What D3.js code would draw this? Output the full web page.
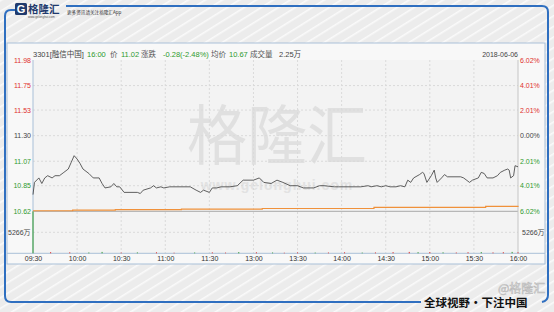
<!DOCTYPE html>
<html>
<head>
<meta charset="utf-8">
<script src="https://cdn.jsdelivr.net/npm/d3@7"></script>
<style>
  body { margin: 0; background: #fff; }
  svg text { font-family: "Liberation Sans", "Noto Sans CJK SC", sans-serif; }
</style>
</head>
<body>
<div id="wrapper"></div>
<script>
// 1) Data
const prevClose = 11.30
const priceTicks = [11.98, 11.75, 11.53, 11.30, 11.07, 10.85, 10.62]
const pctTicks = ["6.02%", "4.01%", "2.01%", "0.00%", "2.01%", "4.01%", "6.02%"]
const timeLabels = ["09:30", "10:00", "10:30", "11:00", "11:30", "13:00",
  "13:30", "14:00", "14:30", "15:00", "15:30", "16:00"]
const volTickLabel = "5266万"

// minutes since open (lunch break removed), price
const priceMinutes = [0, 1, 4, 6, 8, 10, 13, 15, 18, 21, 24, 26, 28, 30, 32, 34, 38, 41, 45, 47,
  49, 53, 55, 57, 59, 62, 66, 71, 73, 75, 80, 82, 84, 87, 89, 93, 107, 111, 114, 116,
  120, 122, 125, 128, 134, 139, 143, 150, 154, 157, 162, 166, 170, 175, 180, 184, 191, 195, 198, 205,
  208, 223, 228, 230, 234, 237, 240, 243, 247, 250, 253, 255, 257, 259, 263, 265, 266, 268, 271, 273,
  274, 275, 278, 280, 282, 291, 293, 297, 299, 303, 305, 307, 309, 313, 316, 318, 321, 323, 324, 325,
  327, 328, 330]
const priceValues = [10.77, 10.88, 10.92, 10.87, 10.92, 10.94, 10.92, 10.94, 10.94, 10.97, 11.00, 11.06, 11.12, 11.09, 11.05, 11.00, 10.96, 10.92, 10.92, 10.87,
  10.83, 10.84, 10.87, 10.84, 10.84, 10.79, 10.79, 10.79, 10.78, 10.81, 10.83, 10.85, 10.83, 10.84, 10.83, 10.84, 10.84, 10.81, 10.79, 10.81,
  10.79, 10.83, 10.83, 10.84, 10.84, 10.85, 10.90, 10.90, 10.92, 10.88, 10.87, 10.90, 10.88, 10.85, 10.85, 10.83, 10.83, 10.85, 10.85, 10.84,
  10.84, 10.84, 10.85, 10.84, 10.85, 10.84, 10.85, 10.84, 10.84, 10.85, 10.84, 10.90, 10.88, 10.92, 10.95, 10.97, 10.96, 10.88, 10.94, 10.99,
  10.92, 10.88, 10.92, 10.95, 10.93, 10.93, 10.92, 10.88, 10.90, 10.92, 10.97, 10.96, 10.92, 10.92, 10.94, 10.97, 10.99, 11.00, 10.99, 10.92,
  10.94, 11.03, 11.02]

// average price line (steps)
const avgMinutes = [0, 27, 56, 101, 156, 232, 308, 330]
const avgValues = [10.625, 10.63, 10.635, 10.64, 10.645, 10.655, 10.665, 10.67]

// volume, in 万
const volMinutes = [0, 12, 25, 38, 47, 60, 71, 84, 96, 110, 122, 131, 140, 152, 163, 171, 180, 192,
  201, 212, 224, 233, 245, 256, 262, 270, 279, 288, 296, 305, 313, 320, 326, 330]
const volValues = [10532, 300, 250, 200, 350, 180, 220, 260, 150, 200, 240, 180, 300, 260, 200, 150, 220, 180,
  200, 260, 180, 220, 300, 350, 280, 320, 240, 200, 260, 300, 220, 280, 350, 260]
const volUp = [false, true, true, false, false, true, false, true, true, false, true, true, false, true, false, true, true, false,
  true, true, false, true, true, true, false, true, false, true, true, false, true, true, false, true]

const header = [
  { text: "3301[融信中国]", color: "#444", x: 33 },
  { text: "16:00", color: "#2f9a2f", x: 87 },
  { text: "价", color: "#555", x: 110 },
  { text: "11.02", color: "#2f9a2f", x: 121 },
  { text: "涨跌", color: "#555", x: 141 },
  { text: "-0.28(-2.48%)", color: "#2f9a2f", x: 163 },
  { text: "均价", color: "#555", x: 211 },
  { text: "10.67", color: "#2f9a2f", x: 229 },
  { text: "成交量", color: "#555", x: 250 },
  { text: "2.25万", color: "#444", x: 279 },
]
const dateLabel = "2018-06-06"

// 2) Dimensions
const dimensions = {
  width: 554,
  height: 312,
  plot: { left: 33, right: 518, top: 60, priceBottom: 211.3, bottom: 253.3 },
}
const p = dimensions.plot
const red = "#e0302d"
const green = "#2f9a2f"

// 3) Canvas
const svg = d3.select("#wrapper").append("svg")
  .attr("width", dimensions.width)
  .attr("height", dimensions.height)

const defs = svg.append("defs")
const pattern = defs.append("pattern")
  .attr("id", "stripes")
  .attr("patternUnits", "userSpaceOnUse")
  .attr("width", 9).attr("height", 9)
  .attr("patternTransform", "rotate(-32)")
pattern.append("rect").attr("width", 9).attr("height", 9).attr("fill", "#ececec")
pattern.append("rect").attr("width", 9).attr("height", 1.6).attr("fill", "#fafafa")

svg.append("rect").attr("width", dimensions.width).attr("height", dimensions.height)
  .attr("fill", "url(#stripes)")

// outer blue frame
const frame = svg.append("g").attr("fill", "none").attr("stroke", "#2f6fc0").attr("stroke-width", 2)
frame.append("path").attr("d", "M5,296 L5,16 Q5,10 11,10 L15,10")
frame.append("path").attr("d", "M66,6 L542,6 Q548,6 548,12 L548,295 Q548,301 542,302")
frame.append("path").attr("d", "M5,296 Q5,302 11,302 L421,302")

// logo
svg.append("rect").attr("x", 15).attr("y", 3).attr("width", 12).attr("height", 12)
  .attr("rx", 1.5).attr("fill", "#1f3a6e")
svg.append("text").attr("x", 21).attr("y", 13).attr("text-anchor", "middle")
  .attr("font-size", 11).attr("font-weight", "bold").attr("fill", "#fff").text("G")
svg.append("text").attr("x", 28).attr("y", 12.5)
  .attr("font-size", 10.5).attr("font-weight", "bold").attr("fill", "#1f3a6e")
  .style("font-family", "Noto Sans CJK SC").text("格隆汇")
svg.append("text").attr("x", 28).attr("y", 17.5)
  .attr("font-size", 3).attr("fill", "#555").text("www.gelonghui.com")
svg.append("text").attr("x", 67).attr("y", 13.5)
  .attr("font-size", 4.6).attr("fill", "#333")
  .style("font-family", "Noto Sans CJK SC").text("更多资讯请关注格隆汇App")

// bottom slogan
svg.append("text").attr("x", 498).attr("y", 293)
  .attr("font-size", 12).attr("fill", "none").attr("stroke", "#bbb").attr("stroke-width", 0.6)
  .style("font-family", "Noto Sans CJK SC").text("@格隆汇")
svg.append("text").attr("x", 424).attr("y", 306.5)
  .attr("font-size", 11.5).attr("font-weight", "bold").attr("fill", "#111")
  .style("font-family", "Noto Sans CJK SC").text("全球视野・下注中国")

// inner panel
svg.append("rect").attr("x", 7).attr("y", 43).attr("width", 538).attr("height", 221)
  .attr("fill", "#f8f8f8").attr("stroke", "#a9c0d8").attr("stroke-width", 1)
svg.append("rect").attr("x", p.left).attr("y", p.top)
  .attr("width", p.right - p.left).attr("height", p.bottom - p.top)
  .attr("fill", "#f3f3f3")

// 4) Scales
const xScale = d3.scaleLinear().domain([0, 330]).range([p.left, p.right])
const yScale = d3.scaleLinear().domain([10.62, 11.98]).range([p.priceBottom, p.top])
const volScale = d3.scaleLinear().domain([0, 10532]).range([p.bottom, p.priceBottom])

const timeTicks = d3.range(0, 331, 30)

// watermark
svg.append("text").attr("x", 277).attr("y", 158).attr("text-anchor", "middle")
  .attr("font-size", 60).attr("fill", "#e0e0e0")
  .style("font-family", "Noto Sans CJK SC")
  .attr("transform", "translate(0,-12) scale(1,1.08)")
  .text("格隆汇")
svg.append("text").attr("x", 277).attr("y", 190).attr("text-anchor", "middle")
  .attr("font-size", 14).attr("font-weight", "bold").attr("fill", "#e2e2e2")
  .attr("letter-spacing", 1).text("www.gelonghui.com")

// grid
const grid = svg.append("g")
grid.selectAll(".vgrid").data(timeTicks.slice(1, -1)).join("line")
  .attr("x1", (d) => xScale(d)).attr("x2", (d) => xScale(d))
  .attr("y1", p.top).attr("y2", p.bottom)
  .attr("stroke", "#dadada").attr("stroke-dasharray", "2,2")
grid.selectAll(".hgrid").data(priceTicks.slice(1, -1).concat([5266])).join("line")
  .attr("x1", p.left).attr("x2", p.right)
  .attr("y1", (d) => d > 1000 ? volScale(d) : yScale(d))
  .attr("y2", (d) => d > 1000 ? volScale(d) : yScale(d))
  .attr("stroke", "#dadada").attr("stroke-dasharray", "2,2")

// frame lines of plot
svg.append("line").attr("x1", p.left).attr("x2", p.right)
  .attr("y1", yScale(10.62)).attr("y2", yScale(10.62)).attr("stroke", "#a8a8a8")
svg.append("line").attr("x1", p.left).attr("x2", p.left)
  .attr("y1", p.top).attr("y2", p.bottom).attr("stroke", "#a9c0d8")
svg.append("line").attr("x1", p.right).attr("x2", p.right)
  .attr("y1", p.top).attr("y2", p.bottom).attr("stroke", "#c4c4c4")
svg.append("line").attr("x1", 7).attr("x2", 545)
  .attr("y1", p.bottom).attr("y2", p.bottom).attr("stroke", "#a9c0d8")

// 5) Data
const volume = volMinutes.map((m, i) => ({ m, v: volValues[i], up: volUp[i] }))
svg.append("g").selectAll("rect").data(volume).join("rect")
  .attr("x", (d) => xScale(d.m) - 0.5)
  .attr("width", 1)
  .attr("y", (d) => volScale(d.v))
  .attr("height", (d) => volScale(0) - volScale(d.v))
  .attr("fill", (d) => d.up ? red : green)

const avgLine = d3.line()
  .x((d, i) => xScale(avgMinutes[i]))
  .y((d) => yScale(d))
  .curve(d3.curveStepAfter)
svg.append("path").attr("d", avgLine(avgValues))
  .attr("fill", "none").attr("stroke", "#f0913a").attr("stroke-width", 1.2)

const priceLine = d3.line()
  .x((d, i) => xScale(priceMinutes[i]))
  .y((d) => yScale(d))
svg.append("path").attr("d", priceLine(priceValues))
  .attr("fill", "none").attr("stroke", "#3a3a3a").attr("stroke-width", 0.8)

// 6) Axes
const tickColor = (d) => d > prevClose + 0.001 ? red : d < prevClose - 0.001 ? green : "#444"

const yAxisLeft = svg.append("g")
  .attr("transform", `translate(${p.left - 2},0)`)
  .call(d3.axisLeft(yScale).tickValues(priceTicks).tickSize(0).tickPadding(0)
    .tickFormat(d3.format(".2f")))
yAxisLeft.select(".domain").remove()
yAxisLeft.selectAll("text").attr("font-size", 7).attr("fill", tickColor)
  .style("font-family", "Liberation Sans")

const yAxisRight = svg.append("g")
  .attr("transform", `translate(${p.right + 2},0)`)
  .call(d3.axisRight(yScale).tickValues(priceTicks).tickSize(0).tickPadding(0)
    .tickFormat((d, i) => pctTicks[i]))
yAxisRight.select(".domain").remove()
yAxisRight.selectAll("text").attr("font-size", 7).attr("fill", tickColor)
  .style("font-family", "Liberation Sans")

svg.append("text").attr("x", 8).attr("y", volScale(5266)).attr("dy", "0.35em")
  .attr("font-size", 7).attr("fill", "#444").style("font-family", "Liberation Sans, Noto Sans CJK SC")
  .text(volTickLabel)
svg.append("text").attr("x", p.right + 4).attr("y", volScale(5266)).attr("dy", "0.35em")
  .attr("font-size", 7).attr("fill", "#444").style("font-family", "Liberation Sans, Noto Sans CJK SC")
  .text(volTickLabel)

const xAxis = svg.append("g")
  .attr("transform", `translate(0,${p.bottom})`)
  .call(d3.axisBottom(xScale).tickValues(timeTicks).tickSize(0).tickPadding(3)
    .tickFormat((d, i) => timeLabels[i]))
xAxis.select(".domain").remove()
xAxis.selectAll("text").attr("font-size", 7).attr("fill", "#333")
  .style("font-family", "Liberation Sans")

// header
svg.append("g").selectAll("text").data(header).join("text")
  .attr("x", (d) => d.x).attr("y", 57)
  .attr("font-size", 7.5).attr("fill", (d) => d.color)
  .text((d) => d.text)
svg.append("text").attr("x", p.right).attr("y", 57).attr("text-anchor", "end")
  .attr("font-size", 7).attr("fill", "#444").text(dateLabel)
</script>
</body>
</html>
